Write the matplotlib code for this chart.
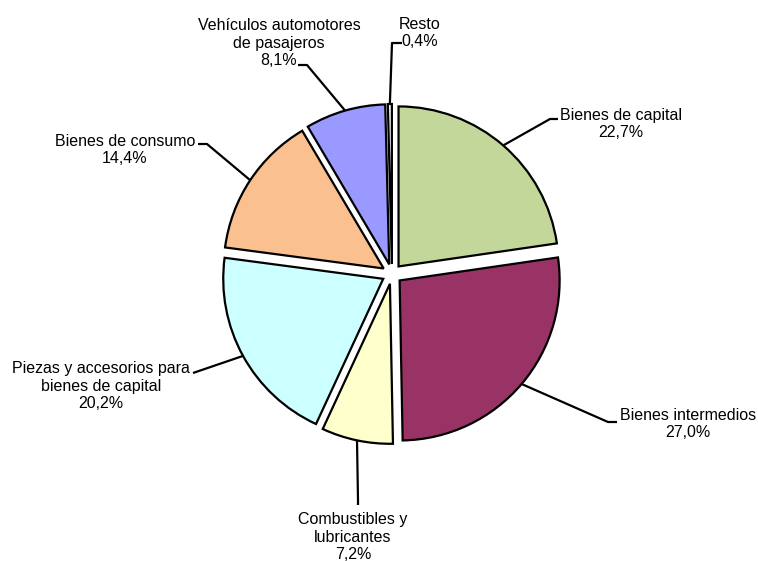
import numpy as np
import matplotlib
matplotlib.use("Agg")
import matplotlib.pyplot as plt

# shares of imports by use, clockwise from the top
categories = ["Bienes de capital", "Bienes intermedios", "Combustibles y\nlubricantes",
              "Piezas y accesorios para\nbienes de capital", "Bienes de consumo",
              "Vehículos automotores\nde pasajeros", "Resto"]
values = [22.7, 27.0, 7.2, 20.2, 14.4, 8.1, 0.4]
colors = ["#C4D79B", "#993366", "#FFFFCC", "#CCFFFF", "#FAC090", "#9999FF", "#FFFFFF"]

# label layout in pixels (x, y from top): text centre and elbow of the leader line
text_pos = [(621, 124), (688, 424), (353, 537), (101, 386), (125, 150), (279, 43), (420, 33)]
elbows = [(550, 119), (608, 422), (358, 500), (193, 373), (207, 144), (307, 65), (392, 43)]
ends = [(558, 119), (617, 422), (358, 505), (193, 373), (198, 144), (298, 65), (402, 43)]

W, H = 758, 561
fig = plt.figure(figsize=(W / 100, H / 100), dpi=100)
ax = fig.add_axes([0, 0, 1, 1])

cx, cy, r = 392, H - 274, 160
explode = [10] * len(values)   # pie explode is in data units (pixels here)
wedges, _ = ax.pie(values, colors=colors, startangle=90, counterclock=False,
                   explode=explode, center=(cx, cy), radius=r, frame=True,
                   wedgeprops=dict(edgecolor="black", linewidth=1.6))

for w, lab, v, tp, el, en in zip(wedges, categories, values, text_pos, elbows, ends):
    ang = np.deg2rad((w.theta1 + w.theta2) / 2)
    x0 = w.center[0] + r * np.cos(ang)
    y0 = w.center[1] + r * np.sin(ang)
    ax.plot([x0, el[0], en[0]], [y0, H - el[1], H - en[1]], color="black", lw=1.6,
            solid_capstyle="butt", zorder=3)
    txt = lab + "\n" + f"{v:.1f}".replace(".", ",") + "%"
    ax.text(tp[0], H - tp[1], txt, ha="center", va="center", multialignment="center",
            fontsize=11.5, family="Liberation Sans", linespacing=1.2)

ax.set_xlim(0, W)
ax.set_ylim(0, H)
ax.set_aspect("equal")
ax.axis("off")
fig.savefig("out.png", dpi=100)
